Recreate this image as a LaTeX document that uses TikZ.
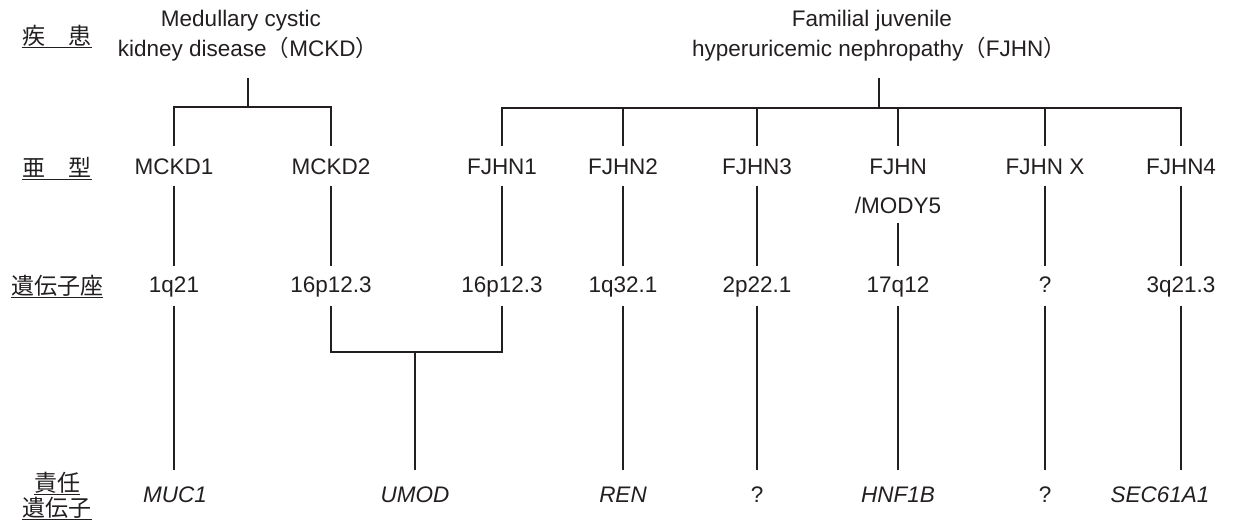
\documentclass[tikz,border=0pt]{standalone}
\usepackage{fontspec}
\setmainfont{Liberation Sans}
\newfontfamily\jp{Noto Sans CJK JP}
\definecolor{ink}{HTML}{231F20}
\begin{document}
\begin{tikzpicture}[x=1pt,y=-1pt,
  every node/.style={inner sep=0pt,text=ink},
  lbl/.style={font=\fontsize{22.5}{27}\selectfont, anchor=base, text height=16pt, text depth=4pt},
  gene/.style={lbl, font=\fontsize{22.5}{27}\selectfont\itshape},
  jlab/.style={font=\jp\fontsize{23}{27}\selectfont, anchor=center, text height=20.2pt, text depth=2.8pt},
  wire/.style={draw=ink, line width=1.7pt},
  uline/.style={draw=ink, line width=1.2pt},
  sl/.style={wire, shorten <=8pt, shorten >=10.5pt},
  lg/.style={wire, shorten <=9.5pt, shorten >=16pt}]
\useasboundingbox (0,0) rectangle (1234,522);

% row labels
\node[jlab] (L1) at (57,36) {疾　患};
\node[jlab] (L2) at (57,168) {亜　型};
\node[jlab] (L3) at (57,286) {遺伝子座};
\node[jlab] (L4a) at (57,483) {責任};
\node[jlab] (L4b) at (57,508) {遺伝子};
\foreach \n in {L1,L2,L3,L4a,L4b}
  \draw[uline] ([yshift=0.5pt]\n.south west) -- ([yshift=0.5pt]\n.south east);

% disease titles
\node[lbl] (t1a) at (241,26) {Medullary cystic};
\node[lbl] (t1b) at (248,56) {kidney disease{\jp（}MCKD{\jp）}};
\node[lbl] (t2a) at (872,26) {Familial juvenile};
\node[lbl] (t2b) at (879,56) {hyperuricemic nephropathy{\jp（}FJHN{\jp）}};
\coordinate (j1) at (248,107);
\coordinate (j2) at (879,108);

% subtypes
\node[lbl] (s1) at (174,174) {MCKD1};
\node[lbl] (s2) at (331,174) {MCKD2};
\node[lbl] (s3) at (502,174) {FJHN1};
\node[lbl] (s4) at (623,174) {FJHN2};
\node[lbl] (s5) at (757,174) {FJHN3};
\node[lbl] (s6) at (898,174) {FJHN};
\node[lbl] (s6b) at (898,213) {/MODY5};
\node[lbl] (s7) at (1045,174) {FJHN X};
\node[lbl] (s8) at (1181,174) {FJHN4};

% loci
\node[lbl] (l1) at (174,292.5) {1q21};
\node[lbl] (l2) at (331,292.5) {16p12.3};
\node[lbl] (l3) at (502,292.5) {16p12.3};
\node[lbl] (l4) at (623,292.5) {1q32.1};
\node[lbl] (l5) at (757,292.5) {2p22.1};
\node[lbl] (l6) at (898,292.5) {17q12};
\node[lbl] (l7) at (1045,292.5) {?};
\node[lbl] (l8) at (1181,292.5) {3q21.3};

% genes
\node[gene] (g1) at (175,502) {MUC1};
\node[gene] (g2) at (415,502) {UMOD};
\node[gene] (g4) at (623,502) {REN};
\node[lbl]  (g5) at (757,502) {?};
\node[gene] (g6) at (898,502) {HNF1B};
\node[lbl]  (g7) at (1045,502) {?};
\node[gene] (g8) at (1160,502) {SEC61A1};
\coordinate (j3) at (415,352);

% disease -> subtype
\draw[wire, shorten <=18pt] (t1b.south) -- (j1);
\draw[wire, shorten <=12pt, shorten >=12pt] (s1.north) |- (j1) -| (s2.north);
\draw[wire, shorten <=18pt] (t2b.south) -- (j2);
\draw[wire, shorten <=12pt, shorten >=12pt] (s3.north) |- (j2) -| (s8.north);
\foreach \s in {s4,s5,s6,s7}
  \draw[wire, shorten >=12pt] (\s.north |- j2) -- (\s.north);

% subtype -> locus
\foreach \s/\l in {s1/l1,s2/l2,s3/l3,s4/l4,s5/l5,s7/l7,s8/l8}
  \draw[sl] (\s.south) -- (\l.north);
\draw[wire, shorten <=6pt, shorten >=10.5pt] (s6b.south) -- (l6.north);

% locus -> gene
\draw[lg] (l1.south) -- (l1.south |- g1.north);
\draw[wire, shorten <=9.5pt, shorten >=9.5pt] (l2.south) |- (j3) -| (l3.south);
\draw[wire, shorten >=16pt] (j3) -- (j3 |- g2.north);
\draw[lg] (l4.south) -- (g4.north);
\draw[lg] (l5.south) -- (g5.north);
\draw[lg] (l6.south) -- (g6.north);
\draw[lg] (l7.south) -- (g7.north);
\draw[lg] (l8.south) -- (l8.south |- g8.north);
\end{tikzpicture}
\end{document}
